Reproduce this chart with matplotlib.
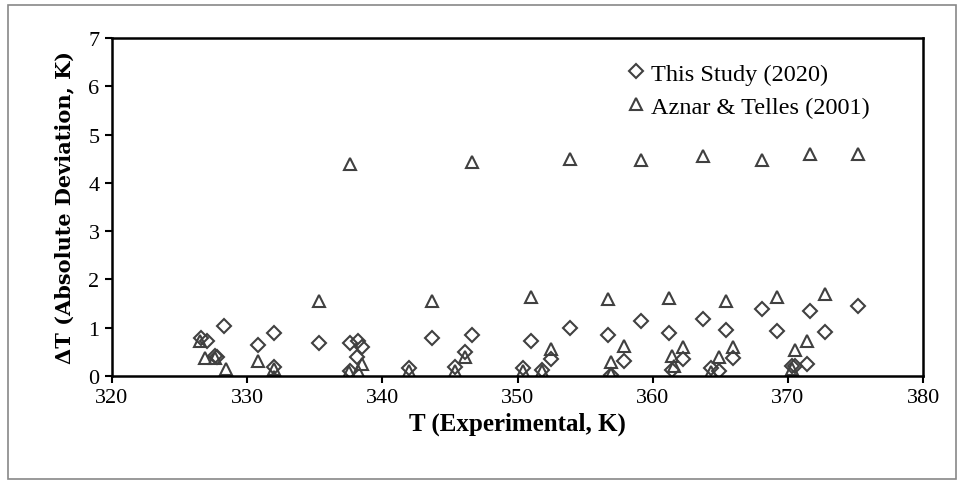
import matplotlib
matplotlib.use("Agg")
import matplotlib.pyplot as plt
from matplotlib.patches import Rectangle

# This Study (2020): experimental T (K) and absolute deviation (K)
study_T = [326.6, 327.0, 328.3, 327.6, 327.8, 330.8, 332.0, 332.0, 335.3, 337.6,
           338.2, 338.5, 338.1, 337.6, 342.0, 343.7, 345.4, 346.1, 346.6, 350.4,
           351.0, 351.8, 352.5, 353.9, 356.7, 356.9, 357.9, 359.1, 361.2, 361.4,
           362.2, 363.7, 364.3, 364.9, 365.4, 365.9, 368.1, 369.2, 370.3, 370.5,
           371.4, 371.6, 372.7, 375.2]
study_dT = [0.78, 0.73, 1.04, 0.42, 0.39, 0.64, 0.90, 0.19, 0.68, 0.68,
            0.73, 0.61, 0.39, 0.11, 0.16, 0.78, 0.18, 0.50, 0.85, 0.16,
            0.73, 0.12, 0.35, 0.99, 0.85, 0.02, 0.32, 1.13, 0.88, 0.12,
            0.35, 1.18, 0.16, 0.11, 0.95, 0.37, 1.39, 0.94, 0.21, 0.21,
            0.25, 1.35, 0.92, 1.44]

# Aznar & Telles (2001)
aznar_T = [337.6, 346.6, 353.9, 359.1, 363.7, 368.1, 371.6, 375.2,
           335.3, 343.7, 351.0, 356.7, 361.2, 365.4, 369.2, 372.7,
           326.5, 326.9, 327.6, 328.4, 330.8, 332.0, 332.0, 337.5, 338.2, 338.5,
           342.0, 345.4, 346.1, 350.4, 351.8, 352.5, 356.9, 356.9, 357.9, 361.4,
           361.6, 362.2, 364.3, 364.9, 365.9, 370.3, 370.5, 371.4]
aznar_dT = [4.40, 4.44, 4.50, 4.48, 4.55, 4.47, 4.60, 4.60,
            1.56, 1.55, 1.64, 1.60, 1.61, 1.56, 1.64, 1.70,
            0.73, 0.38, 0.38, 0.15, 0.32, -0.02, 0.15, 0.08, 0.11, 0.25,
            0.10, 0.10, 0.40, 0.11, 0.11, 0.56, 0.28, 0.04, 0.63, 0.42,
            0.21, 0.60, 0.08, 0.39, 0.60, 0.14, 0.53, 0.73]

plt.rcParams["font.family"] = ["Liberation Serif", "DejaVu Serif"]
mk = "#404040"

fig = plt.figure(figsize=(9.6, 4.85), dpi=100)
ax = fig.add_axes([0.1167, 0.2227, 0.845, 0.697])

ax.plot(study_T, study_dT, ls="none", marker="D", ms=7, mfc="none",
        mec=mk, mew=1.5, label="This Study (2020)")
ax.plot(aznar_T, aznar_dT, ls="none", marker="^", ms=9, mfc="none",
        mec=mk, mew=1.5, label="Aznar & Telles (2001)")

ax.set_xlim(320, 380)
ax.set_ylim(0, 7)
ax.set_xticks(range(320, 381, 10))
ax.set_yticks(range(0, 8))
ax.tick_params(direction="out", length=5, width=1.5, labelsize=16, pad=4)
for s in ax.spines.values():
    s.set_linewidth(1.8)
    s.set_color("black")

ax.set_xlabel("T (Experimental, K)", fontsize=18, fontweight="bold", labelpad=3)
ax.set_ylabel("ΔT (Absolute Deviation, K)", fontsize=15, fontweight="bold",
              family=["DejaVu Serif"], labelpad=10)

leg = ax.legend(loc="upper left", bbox_to_anchor=(0.625, 0.955), frameon=False,
                fontsize=17.5, handlelength=0.6, handletextpad=0.3,
                labelspacing=0.45, borderaxespad=0)

# grey outer chart border
fig.patches.append(Rectangle((0.008, 0.01), 0.988, 0.978, transform=fig.transFigure,
                             fill=False, edgecolor="#888888", linewidth=1.2))

fig.savefig("out.png", dpi=100)
